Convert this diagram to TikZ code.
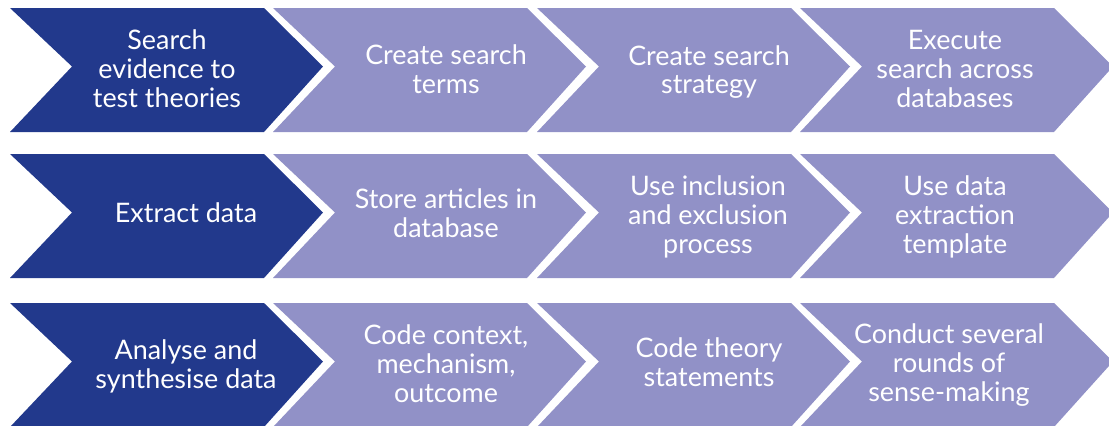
\documentclass[tikz,border=0pt]{standalone}
\usepackage{fontspec}
\setmainfont{Lato}
\definecolor{darkblue}{RGB}{34,57,140}
\definecolor{lightpurple}{RGB}{145,145,199}
\tikzset{
  lbl/.style={text=white, align=center, font=\fontsize{27}{29}\selectfont, inner sep=0pt},
}
\newcommand\chevron[3]{%
  \fill[#3] (#1,#2) -- ++(254,0) -- ++(59,58.5) -- ++(-59,65.5) -- ++(-254,0) -- ++(62,-65.5) -- cycle;}
\begin{document}
\begin{tikzpicture}[x=1bp,y=-1bp]
\useasboundingbox (0,0) rectangle (1109,425);
% row 1
\chevron{10}{8}{darkblue}
\chevron{273}{8}{lightpurple}
\chevron{537}{8}{lightpurple}
\chevron{800}{8}{lightpurple}
% row 2
\chevron{10}{154}{darkblue}
\chevron{273}{154}{lightpurple}
\chevron{537}{154}{lightpurple}
\chevron{800}{154}{lightpurple}
% row 3
\chevron{10}{303}{darkblue}
\chevron{273}{303}{lightpurple}
\chevron{537}{303}{lightpurple}
\chevron{800}{303}{lightpurple}
% labels
\node[lbl] (a1) at (167,69) {Search\\evidence to\\test theories};
\node[lbl] (a2) at (446,69) {Create search\\terms};
\node[lbl] (a3) at (709,72) {Create search\\strategy};
\node[lbl] (a4) at (955,69) {Execute\\search across\\databases};
\node[lbl] (b1) at (186,213) {Extract data};
\node[lbl] (b2) at (446,213) {Store articles in\\database};
\node[lbl] (b3) at (708,217) {Use inclusion\\and exclusion\\process};
\node[lbl] (b4) at (955,217) {Use data\\extraction\\template};
\node[lbl] (c1) at (186,366) {Analyse and\\synthesise data};
\node[lbl] (c2) at (446,364) {Code context,\\mechanism,\\outcome};
\node[lbl] (c3) at (709,362) {Code theory\\statements};
\node[lbl] (c4) at (949,365) {Conduct several\\rounds of\\sense-making};
\end{tikzpicture}
\end{document}
